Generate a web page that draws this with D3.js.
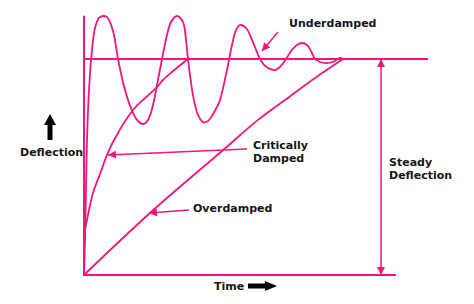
<!DOCTYPE html>
<html>
<head>
<meta charset="utf-8">
<script src="https://cdn.jsdelivr.net/npm/d3@7"></script>
<style>
  html, body { margin: 0; padding: 0; background: #fff; }
  svg { display: block; }
  text { font-family: "DejaVu Sans", Verdana, sans-serif; font-weight: bold; font-size: 11px; fill: #151515; }
</style>
</head>
<body>
<svg id="chart" width="474" height="304"></svg>
<script>
// ---- data (time in arbitrary units, deflection relative to steady value = 1) ----
const underdampedT = [0,1,2,3,5,8,11,15,19,23,26,30,34,41,49,54,59,64,69,73,78,83,87,93,99,102,104,109,114,119,124,129,133,136,143,148,152,156,162,168,173,176,181,186,191,196,202,208,213,218,223,227,231,236,242,249,256,259];
const underdampedD = [0,0.162,0.394,0.625,0.856,1.042,1.144,1.190,1.199,1.194,1.171,1.111,1.000,0.856,0.750,0.713,0.699,0.718,0.787,0.880,1.000,1.111,1.171,1.199,1.171,1.088,1.000,0.833,0.741,0.708,0.713,0.745,0.778,0.810,0.949,1.065,1.134,1.157,1.144,1.088,1.032,1.000,0.968,0.954,0.949,0.963,1.000,1.042,1.065,1.074,1.065,1.037,1.000,0.986,0.981,0.986,1.005,1.000];
const criticalT = [0,1,3,9,16,23,30,49,61,73,79,88,104];
const criticalD = [0.06,0.208,0.255,0.380,0.468,0.556,0.625,0.764,0.819,0.870,0.903,0.940,1.000];
const overdampedT = [0,66,138,174,201,231,259];
const overdampedD = [0,0.287,0.574,0.718,0.810,0.912,1.000];

const steadyValue = 1;
const axisTimeEnd = 312;     // end of time axis
const axisDeflEnd = 1.2;     // top of deflection axis
const steadyLineEnd = 344;   // end of steady-value line
const steadyArrowT = 297;    // position of "steady deflection" dimension arrow

// annotation pointers: [fromT, fromD, toT, toD]
const pointerUnder = [194, 1.125, 178, 1.037];
const pointerCrit  = [163, 0.583, 24, 0.556];
const pointerOver  = [105, 0.301, 65, 0.287];

// labels: text lines, anchor in data units
const labels = [
  { lines: ["Underdamped"], t: 205, d: 1.148 },
  { lines: ["Critically", "Damped"], t: 169, d: 0.583 },
  { lines: ["Overdamped"], t: 109, d: 0.292 },
  { lines: ["Steady", "Deflection"], t: 305, d: 0.505 }
];

// ---- drawing ----
const pink = "#f0167f";
const svg = d3.select("#chart");
const x = d3.scaleLinear().domain([0, 344]).range([84, 428]);
const y = d3.scaleLinear().domain([0, 1]).range([275, 59]);

const defs = svg.append("defs");
defs.append("marker").attr("id", "ah")
  .attr("viewBox", "0 0 10 10").attr("refX", 10).attr("refY", 5)
  .attr("markerWidth", 10).attr("markerHeight", 8).attr("markerUnits", "userSpaceOnUse")
  .attr("orient", "auto-start-reverse")
  .append("path").attr("d", "M0,0 L10,5 L0,10 Z").attr("fill", pink);

const line = d3.line().x(d => x(d[0])).y(d => y(d[1])).curve(d3.curveCatmullRom.alpha(0.5));
const straight = d3.line().x(d => x(d[0])).y(d => y(d[1]));

// axes
svg.append("path").attr("d", straight([[0, axisDeflEnd], [0, 0], [axisTimeEnd, 0]]))
  .attr("fill", "none").attr("stroke", pink).attr("stroke-width", 2);
// steady line
svg.append("path").attr("d", straight([[0, steadyValue], [steadyLineEnd, steadyValue]]))
  .attr("fill", "none").attr("stroke", pink).attr("stroke-width", 1.8);

// curves
const curves = [
  [underdampedT, underdampedD],
  [criticalT, criticalD],
  [overdampedT, overdampedD]
];
curves.forEach(([ts, ds]) => {
  svg.append("path").attr("d", line(ts.map((t, i) => [t, ds[i]])))
    .attr("fill", "none").attr("stroke", pink).attr("stroke-width", 1.8)
    .attr("stroke-linejoin", "round");
});

// pointers
[pointerUnder, pointerCrit, pointerOver].forEach(p => {
  svg.append("path").attr("d", straight([[p[0], p[1]], [p[2], p[3]]]))
    .attr("fill", "none").attr("stroke", pink).attr("stroke-width", 1.5)
    .attr("marker-end", "url(#ah)");
});
// steady deflection dimension arrow
svg.append("path").attr("d", straight([[steadyArrowT, 0], [steadyArrowT, steadyValue]]))
  .attr("fill", "none").attr("stroke", pink).attr("stroke-width", 1.5)
  .attr("marker-start", "url(#ah)").attr("marker-end", "url(#ah)");

// labels
labels.forEach(l => {
  const tx = svg.append("text").attr("x", x(l.t)).attr("y", y(l.d));
  l.lines.forEach((s, i) => {
    tx.append("tspan").attr("x", x(l.t)).attr("dy", i === 0 ? 0 : 13).text(s);
  });
});

// axis titles with black arrows
svg.append("text").attr("x", 20).attr("y", 156).text("Deflection");
svg.append("path").attr("d", "M47.5,140 L47.5,125 L44,125 L50,114 L56,125 L52.5,125 L52.5,140 Z").attr("fill", "#000");
svg.append("text").attr("x", 214).attr("y", 290).text("Time");
svg.append("path").attr("d", "M248,283.5 L265,283.5 L265,281 L277,286 L265,291 L265,288.5 L248,288.5 Z").attr("fill", "#000");
</script>
</body>
</html>
